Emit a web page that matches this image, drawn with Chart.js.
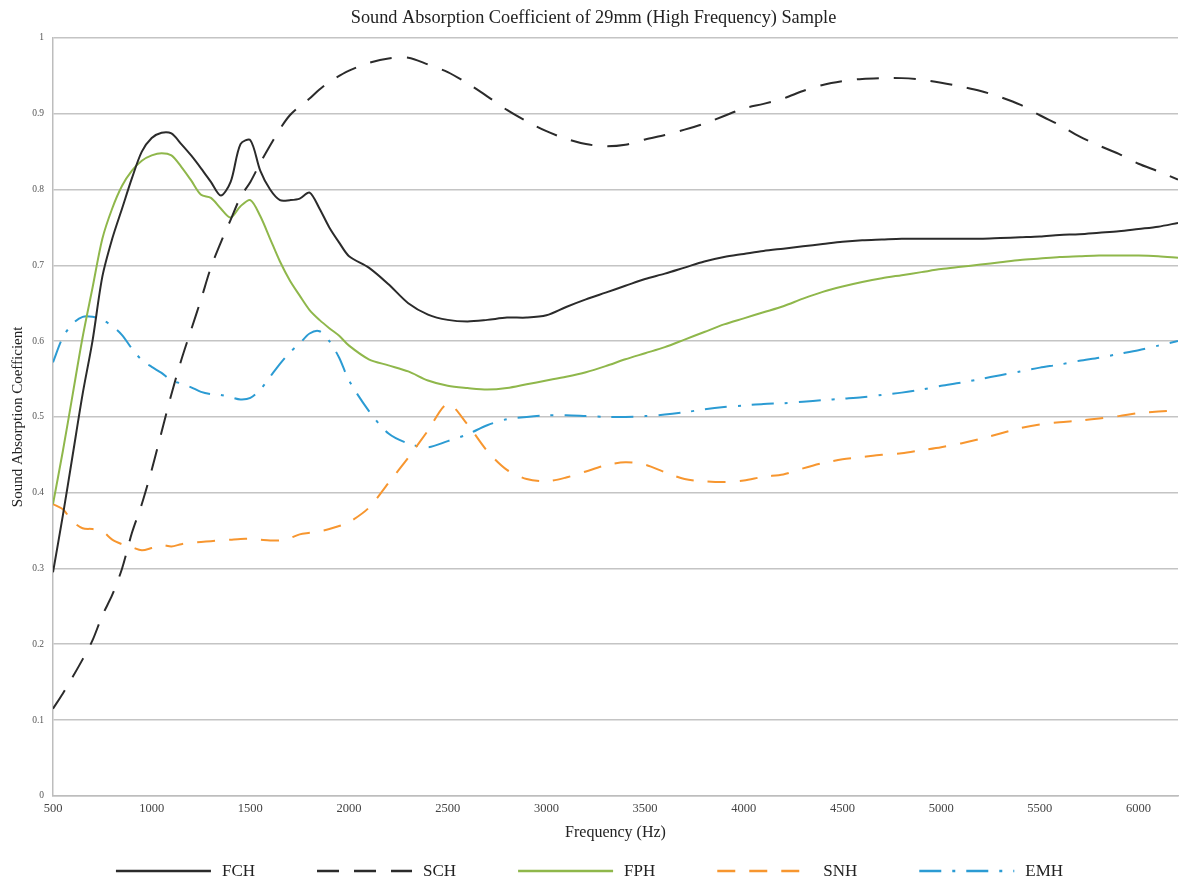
<!DOCTYPE html>
<html>
<head>
<meta charset="utf-8">
<script src="https://cdn.jsdelivr.net/npm/chart.js@4.4.0/dist/chart.umd.min.js"></script>
<style>
  html, body { margin: 0; padding: 0; background: #fff; }
  #wrap { width: 1179px; height: 879px; }
</style>
</head>
<body>
<div id="wrap"><canvas id="absChart"></canvas></div>
<script>
// Frequencies (Hz)
var freq = [500,550,600,650,700,750,800,850,900,950,1000,1050,1100,1150,1200,1250,1300,1350,1400,1450,1500,
  1550,1600,1650,1700,1750,1800,1850,1900,1950,2000,2100,2200,2300,2400,2500,2600,2700,2800,2900,3000,
  3100,3200,3300,3400,3500,3600,3700,3800,3900,4000,4100,4200,4300,4400,4500,4600,4700,4800,4900,5000,
  5100,5200,5300,5400,5500,5600,5700,5800,5900,6000,6100,6200];

var fch = [0.295,0.37,0.45,0.53,0.60,0.685,0.735,0.775,0.815,0.85,0.868,0.875,0.874,0.86,0.845,0.828,0.81,0.792,0.81,0.86,0.865,
  0.825,0.80,0.786,0.786,0.788,0.796,0.775,0.75,0.73,0.712,0.697,0.675,0.65,0.635,0.628,0.626,0.628,0.631,0.631,0.634,
  0.645,0.655,0.664,0.673,0.682,0.689,0.697,0.705,0.711,0.715,0.719,0.722,0.725,0.728,0.731,0.733,0.734,0.735,0.735,0.735,
  0.735,0.735,0.736,0.737,0.738,0.74,0.741,0.743,0.745,0.748,0.751,0.756];

var sch = [0.115,0.135,0.157,0.18,0.205,0.238,0.265,0.30,0.347,0.385,0.43,0.48,0.53,0.575,0.615,0.655,0.697,0.73,0.76,0.79,0.81,
  0.835,0.858,0.88,0.898,0.91,0.92,0.932,0.942,0.95,0.957,0.967,0.973,0.974,0.965,0.955,0.94,0.923,0.905,0.89,0.877,
  0.867,0.86,0.857,0.859,0.866,0.872,0.879,0.887,0.897,0.907,0.913,0.92,0.93,0.938,0.943,0.946,0.947,0.947,0.945,0.941,
  0.936,0.93,0.922,0.912,0.898,0.885,0.87,0.858,0.847,0.834,0.824,0.813];

var fph = [0.385,0.455,0.53,0.605,0.67,0.735,0.775,0.805,0.825,0.838,0.845,0.848,0.845,0.83,0.812,0.793,0.789,0.775,0.763,0.778,0.786,
  0.765,0.735,0.705,0.68,0.66,0.641,0.628,0.617,0.607,0.594,0.576,0.568,0.56,0.548,0.541,0.538,0.536,0.538,0.543,0.548,
  0.553,0.559,0.567,0.576,0.584,0.592,0.602,0.612,0.622,0.63,0.638,0.646,0.656,0.665,0.672,0.678,0.683,0.687,0.691,0.695,
  0.698,0.701,0.704,0.707,0.709,0.711,0.712,0.713,0.713,0.713,0.712,0.71];

var snh = [0.385,0.378,0.362,0.353,0.352,0.349,0.338,0.332,0.328,0.324,0.327,0.331,0.329,0.332,0.334,0.335,0.336,0.337,0.338,0.339,0.339,
  0.338,0.337,0.337,0.34,0.345,0.347,0.349,0.352,0.356,0.361,0.38,0.413,0.446,0.482,0.517,0.49,0.455,0.43,0.418,0.415,
  0.42,0.428,0.436,0.44,0.437,0.427,0.418,0.415,0.414,0.416,0.421,0.424,0.432,0.439,0.444,0.447,0.45,0.452,0.456,0.46,
  0.465,0.471,0.478,0.485,0.49,0.493,0.495,0.498,0.501,0.505,0.507,0.509];

var emh = [0.572,0.605,0.623,0.632,0.632,0.628,0.62,0.608,0.59,0.575,0.566,0.558,0.548,0.544,0.539,0.533,0.53,0.529,0.526,0.523,0.525,
  0.536,0.553,0.57,0.585,0.597,0.61,0.613,0.60,0.578,0.548,0.508,0.478,0.465,0.46,0.468,0.477,0.489,0.497,0.50,0.502,
  0.502,0.501,0.50,0.50,0.501,0.503,0.506,0.51,0.513,0.515,0.517,0.518,0.52,0.522,0.524,0.526,0.529,0.532,0.536,0.541,
  0.545,0.55,0.555,0.56,0.565,0.569,0.574,0.578,0.583,0.588,0.594,0.60];

var xTicks = [500,1000,1500,2000,2500,3000,3500,4000,4500,5000,5500,6000];

// pair frequency with value for the linear x axis
function toPoints(vals) {
  return freq.map(function (f, i) { return {x: f, y: vals[i]}; });
}

function makeSet(label, vals, color, dash) {
  return {
    label: label,
    data: toPoints(vals),
    borderColor: color,
    backgroundColor: color,
    borderWidth: 2,
    borderDash: dash,
    pointRadius: 0,
    tension: 0.3,
    fill: false
  };
}

var serif = "'Liberation Serif', 'DejaVu Serif', serif";

// Legend drawn by hand so the dash patterns show in the samples
var lineLegend = {
  id: 'lineLegend',
  afterDraw: function (chart) {
    var ctx = chart.ctx;
    var sets = chart.data.datasets;
    var lineW = 95, gap = 11, spacing = 62, y = 871;
    ctx.save();
    ctx.font = '17px ' + serif;
    var widths = sets.map(function (d) { return lineW + gap + ctx.measureText(d.label).width; });
    var total = widths.reduce(function (a, b) { return a + b; }, 0) + spacing * (sets.length - 1);
    var x = (chart.width - total) / 2;
    sets.forEach(function (d, i) {
      ctx.strokeStyle = d.borderColor;
      ctx.lineWidth = 2.5;
      ctx.setLineDash(d.borderDash || []);
      ctx.beginPath();
      ctx.moveTo(x, y);
      ctx.lineTo(x + lineW, y);
      ctx.stroke();
      ctx.setLineDash([]);
      ctx.fillStyle = '#222';
      ctx.textBaseline = 'middle';
      ctx.fillText(d.label, x + lineW + gap, y + 1);
      x += widths[i] + spacing;
    });
    ctx.restore();
  }
};

new Chart(document.getElementById('absChart'), {
  type: 'line',
  data: {
    datasets: [
      makeSet('FCH', fch, '#2b2b2b', []),
      makeSet('SCH', sch, '#2b2b2b', [22, 15]),
      makeSet('FPH', fph, '#8fb74b', []),
      makeSet('SNH', snh, '#f7962f', [18, 14]),
      makeSet('EMH', emh, '#2b9bd3', [22, 11, 3, 11])
    ]
  },
  plugins: [lineLegend],
  options: {
    responsive: true,
    maintainAspectRatio: false,
    animation: false,
    layout: { padding: { left: 9, right: 1, top: 0, bottom: 37 } },
    plugins: {
      title: {
        display: true,
        text: 'Sound Absorption Coefficient of 29mm (High Frequency) Sample',
        color: '#222',
        font: { family: serif, size: 18.3, weight: 'normal' },
        padding: { top: 7, bottom: 9 }
      },
      legend: { display: false },
      tooltip: { enabled: false }
    },
    scales: {
      x: {
        type: 'linear',
        min: 500,
        max: 6200,
        afterBuildTicks: function (scale) {
          scale.ticks = xTicks.map(function (v) { return {value: v}; });
        },
        ticks: {
          color: '#444', font: { family: serif, size: 12.5 }, padding: 5, maxRotation: 0,
          callback: function (v) { return String(v); }
        },
        grid: { display: false, drawTicks: false },
        border: { display: true, color: '#bdbdbd', width: 1.5 },
        title: {
          display: true,
          text: 'Frequency (Hz)',
          color: '#222',
          font: { family: serif, size: 16 },
          padding: { top: 2, bottom: 0 }
        }
      },
      y: {
        min: 0,
        max: 1,
        afterFit: function (scale) { scale.width = 44; },
        ticks: {
          stepSize: 0.1, color: '#555', font: { family: serif, size: 9.5 }, padding: 9,
          callback: function (v) { return String(Math.round(v * 10) / 10); }
        },
        grid: { color: '#c4c4c4', lineWidth: 1.5, drawTicks: false },
        border: { display: true, color: '#bdbdbd', width: 1.5 },
        title: {
          display: true,
          text: 'Sound Absorption Coefficient',
          color: '#222',
          font: { family: serif, size: 15 },
          padding: { top: 0, bottom: 0 }
        }
      }
    }
  }
});
</script>
</body>
</html>
